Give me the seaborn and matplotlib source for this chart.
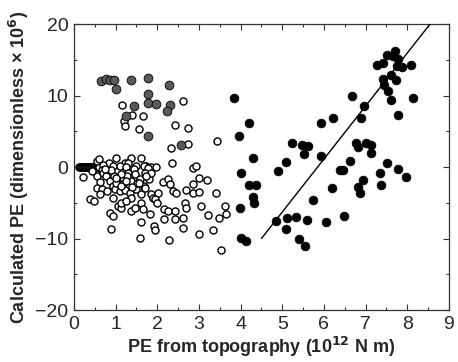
import numpy as np
import pandas as pd
import matplotlib
matplotlib.use("Agg")
import matplotlib.pyplot as plt
from matplotlib.ticker import MultipleLocator
import seaborn as sns

# punti neri (gruppo a destra)
black_x = [3.85, 3.95, 4.02, 4.21, 4.21, 4.30, 4.38, 4.30, 4.33, 3.98, 4.02, 4.13,
           4.85, 4.89, 5.09, 5.12, 5.10, 5.23, 5.34, 5.40, 5.47, 5.52, 5.63, 5.55,
           5.59, 5.74, 5.92, 5.94, 6.04, 6.20, 6.23, 6.39, 6.47, 6.48, 6.62, 6.68,
           6.78, 6.82, 6.81, 6.87, 6.88, 6.93, 6.97, 7.02, 7.12, 7.14, 7.28, 7.35,
           7.38, 7.41, 7.43, 7.45, 7.52, 7.51, 7.54, 7.60, 7.62, 7.66, 7.70, 7.74,
           7.76, 7.79, 7.77, 7.77, 7.87, 8.09, 7.96, 8.14]
black_y = [9.6, 4.3, -0.8, 6.1, -2.5, 1.3, -2.5, -4.2, -5.1, -5.8, -9.95, -10.4,
           -7.6, -0.6, 0.75, -7.1, -8.6, 3.3, -7.0, -10.0, 3.1, 1.8, 2.9, -11.1,
           -7.4, -4.6, 1.6, 6.2, -7.7, -2.9, 6.8, -0.4, -0.4, -6.8, 0.9, 9.9,
           3.4, 2.8, -2.8, -3.6, 6.9, -1.8, 8.6, 3.4, 3.1, 2.0, 14.3, -0.8,
           -2.5, 12.3, 14.6, 11.5, 15.7, 0.5, 10.6, 9.4, 12.8, 15.5, 16.2, 12.2,
           14.1, 15.1, -0.3, 7.3, 14.0, 14.2, -1.4, 9.6]

# punti grigi
gray_x = [0.64, 0.77, 0.86, 0.95, 1.01, 1.38, 1.25, 1.45, 1.78, 1.78, 1.78, 1.78,
          1.98, 2.29, 2.30, 2.24, 2.56]
gray_y = [12.0, 12.3, 12.1, 12.1, 10.9, 12.1, 7.1, 8.5, 12.5, 10.2, 8.9, 4.3,
          8.8, 11.4, 8.7, 7.8, 3.1]

# cerchi vuoti (la fila a y=0 vicino all'origine e' molto fitta)
band_x = [0.13, 0.15, 0.17, 0.19, 0.21, 0.23, 0.25, 0.27, 0.29, 0.31, 0.33, 0.35,
          0.37, 0.39, 0.41, 0.43, 0.45, 0.47, 0.49, 0.51, 0.53, 0.55, 0.57, 0.59, 0.61]
band_y = [0.0] * len(band_x)
open_x = [1.15, 1.40, 1.65, 1.20, 1.22, 1.55, 2.62, 2.43, 2.73, 2.34, 2.74, 3.43, 2.36,
          0.56, 0.59, 0.83, 1.02, 1.22, 1.38, 1.30, 1.61, 1.50, 1.72, 1.86, 1.98, 2.85,
          2.94, 0.94, 1.10, 0.70, 0.66, 1.26, 1.44, 1.68, 1.78,
          0.21, 0.54, 0.70, 0.78, 0.86, 0.96, 1.06, 1.18, 1.18, 1.30, 1.38, 1.46, 1.58,
          1.71, 1.80, 0.62, 0.54, 0.66, 0.80, 0.93, 0.98, 1.10, 1.22, 1.34, 1.38, 1.50,
          1.62, 1.67, 1.84, 1.90, 2.02, 1.94, 2.00, 2.14, 2.26, 2.30, 2.37, 2.46, 2.70,
          2.85, 3.00, 2.86, 3.00, 3.20, 3.40, 2.66, 2.70, 3.04, 3.22, 3.62, 3.66, 3.48,
          2.62, 2.61, 3.33, 3.00, 3.54, 2.28, 1.93, 1.94, 1.58, 1.60, 0.90, 0.86, 0.93,
          1.06, 1.12, 1.14, 1.26, 1.38, 1.46, 1.62, 1.66, 1.82, 2.16, 2.26, 2.17, 2.42,
          2.42, 0.38, 0.48, 0.62, 0.94, 1.86, 0.42, 0.88, 1.02, 1.14, 1.28, 1.52, 1.74,
          1.12, 1.25, 1.40, 1.55, 1.70, 1.00, 0.74]
open_y = [8.7, 7.3, 7.1, 6.4, 5.7, 5.3, 9.3, 5.9, 5.4, 2.6, 3.2, 3.6, 0.6,
          0.9, 1.1, 0.5, 1.2, 0.5, 1.2, 0.6, 1.2, 0.1, 0.1, 0.0, 0.0, -0.1,
          0.1, 0.1, 0.1, 0.3, -0.4, 0.0, -0.3, 0.2, -0.2,
          -1.4, -1.3, -0.8, -1.3, -2.0, -1.2, -1.7, -1.6, -2.4, -0.8, -2.0, -1.0, -1.7,
          -0.8, -1.7, -2.1, -2.9, -3.1, -3.4, -2.6, -3.1, -3.4, -3.2, -3.6, -4.4, -3.1,
          -3.8, -2.7, -3.8, -4.3, -3.6, -4.5, -5.0, -2.1, -1.7, -2.4, -3.4, -3.7, -3.2,
          -3.6, -3.5, -2.4, -1.5, -1.8, -3.6, -5.1, -5.7, -5.5, -6.7, -5.5, -6.6, -7.2,
          -7.2, -8.5, -8.8, -9.3, -11.6, -10.2, -8.3, -8.8, -9.9, -7.7, -8.7, -6.5, -6.9,
          -5.5, -5.8, -5.0, -4.8, -6.2, -5.7, -5.0, -5.9, -6.6, -5.9, -6.2, -7.3, -6.2,
          -7.3, -4.5, -4.8, -3.8, -4.3, -0.8, -0.6, -0.4, -2.2, -2.6, -1.3, -2.3, -1.2,
          -1.0, -1.9, -2.8, -2.2, -2.9, -1.5, -0.3]

# retta di regressione
line_x = [4.5, 8.55]
line_y = [-10.0, 20.0]

black = pd.DataFrame({"x": black_x, "y": black_y})
gray = pd.DataFrame({"x": gray_x, "y": gray_y})
opn = pd.DataFrame({"x": band_x + open_x, "y": band_y + open_y})

sns.set_style("ticks")
plt.rcParams["font.family"] = ["Liberation Sans", "DejaVu Sans"]

fig = plt.figure(figsize=(4.58, 3.62), dpi=100)
ax = fig.add_axes([0.1616, 0.1436, 0.8184, 0.7901])

sns.scatterplot(data=opn, x="x", y="y", ax=ax, marker="o", s=26,
                facecolor="white", edgecolor="black", linewidth=1.0, zorder=2)
sns.scatterplot(data=gray, x="x", y="y", ax=ax, marker="o", s=40,
                color="#5a5a5a", edgecolor="black", linewidth=0.6, zorder=3)
sns.scatterplot(data=black, x="x", y="y", ax=ax, marker="o", s=40,
                color="black", edgecolor="black", linewidth=0.5, zorder=3)
sns.lineplot(x=line_x, y=line_y, ax=ax, color="black", linewidth=1.0, zorder=4)

ax.set_xlim(0, 9)
ax.set_ylim(-20, 20)
ax.xaxis.set_major_locator(MultipleLocator(1))
ax.xaxis.set_minor_locator(MultipleLocator(0.5))
ax.yaxis.set_major_locator(MultipleLocator(10))
ax.yaxis.set_minor_locator(MultipleLocator(5))
ax.tick_params(which="both", direction="in", top=True, right=True, labelsize=14,
               color="#333333", pad=4)
ax.tick_params(which="major", length=4, width=0.8)
ax.tick_params(which="minor", length=2.5, width=0.8)
for s in ax.spines.values():
    s.set_linewidth(0.9)
    s.set_color("#333333")

ax.set_xlabel("PE from topography (10$^{\\mathbf{12}}$ N m)", fontsize=13,
              fontweight="bold", labelpad=2)
ax.set_ylabel("Calculated PE (dimensionless \u00d7 10$^{\\mathbf{6}}$)", fontsize=13,
              fontweight="bold", labelpad=3)

fig.savefig("out.png", dpi=100)
